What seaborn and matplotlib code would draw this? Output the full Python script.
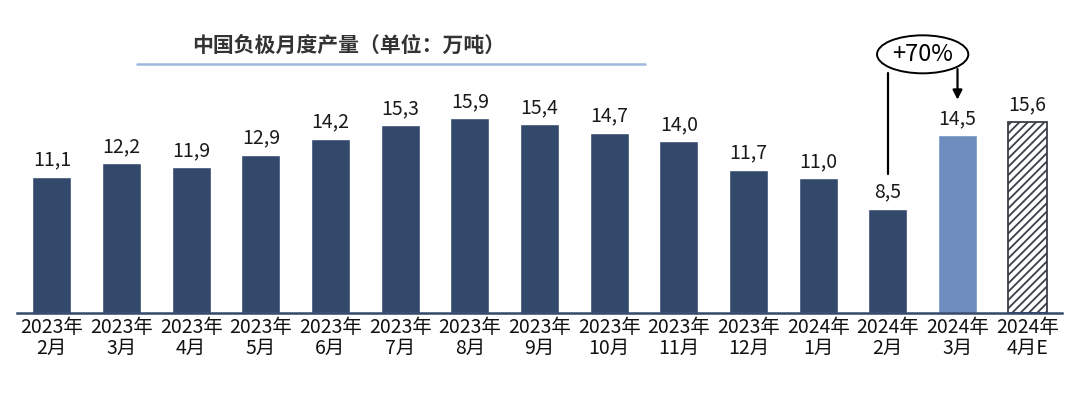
import numpy as np
import pandas as pd
import seaborn as sns
import matplotlib.pyplot as plt
from matplotlib.patches import Ellipse
from matplotlib.lines import Line2D

months = ['2023年\n2月', '2023年\n3月', '2023年\n4月', '2023年\n5月', '2023年\n6月',
          '2023年\n7月', '2023年\n8月', '2023年\n9月', '2023年\n10月', '2023年\n11月',
          '2023年\n12月', '2024年\n1月', '2024年\n2月', '2024年\n3月', '2024年\n4月E']
output = [11.1, 12.2, 11.9, 12.9, 14.2, 15.3, 15.9, 15.4, 14.7, 14.0, 11.7, 11.0, 8.5, 14.5, 15.6]
growth_label = '+70%'
title = '中国负极月度产量（单位：万吨）'

navy = '#33496B'
light = '#6D8EBF'

sns.set_theme(style='white')
plt.rcParams['font.family'] = ['Noto Sans CJK SC', 'DejaVu Sans']
plt.rcParams['hatch.linewidth'] = 1.3

df = pd.DataFrame({'month': months, 'value': output})
colors = [navy] * len(months)
colors[13] = light
colors[14] = 'white'

fig = plt.figure(figsize=(10.8, 3.93), dpi=100)
ax = fig.add_axes([17 / 1080, 80 / 393, 1045 / 1080, 293 / 393])

sns.barplot(data=df, x='month', y='value', hue='month', palette=colors,
            legend=False, width=0.56, saturation=1, ax=ax)

# estimate bar: hatched
last = ax.patches[14]
last.set_facecolor('white')
last.set_edgecolor('#3a3f48')
last.set_hatch('////')
last.set_linewidth(1.3)

for i, v in enumerate(output):
    ax.annotate(f'{v:.1f}'.replace('.', ','), (i, v), xytext=(0, 4.5),
                textcoords='offset points', ha='center', va='bottom',
                fontsize=14, color='#1a1a1a')

ax.set_xlim(-0.5, 14.5)
ax.set_ylim(0, 23.9)
ax.set_xlabel('')
ax.set_ylabel('')
ax.set_yticks([])
ax.tick_params(axis='x', length=0, pad=3, labelsize=14, labelcolor='#111111')
for lbl in ax.get_xticklabels():
    lbl.set_linespacing(1.0)
for s in ['top', 'left', 'right']:
    ax.spines[s].set_visible(False)
ax.spines['bottom'].set_color(navy)
ax.spines['bottom'].set_linewidth(1.8)

# growth annotation from 2024年2月 to 2024年3月
ell = Ellipse((12.5, 21.1), 1.31, 3.1, facecolor='white', edgecolor='black', lw=1.4,
              clip_on=False, zorder=5)
ax.add_patch(ell)
ax.text(12.5, 21.1, growth_label, ha='center', va='center', fontsize=17,
        color='black', zorder=6)
ax.plot([12, 12], [output[12] + 2.8, 19.6], color='black', lw=1.6, clip_on=False)
ax.annotate('', xy=(13, output[13] + 2.9), xytext=(13, 19.9),
            arrowprops=dict(arrowstyle='-|>', color='black', lw=1.6,
                            mutation_scale=14, shrinkA=0, shrinkB=0))

# title and underline
fig.text(349 / 1080, 1 - 45 / 393, title, ha='center', va='center',
         fontsize=15, fontweight='bold', color='#333333')
fig.add_artist(Line2D([137 / 1080, 645 / 1080], [1 - 64 / 393, 1 - 64 / 393],
                      color='#9DB8DA', lw=1.8))

fig.savefig('out.png', dpi=100)
